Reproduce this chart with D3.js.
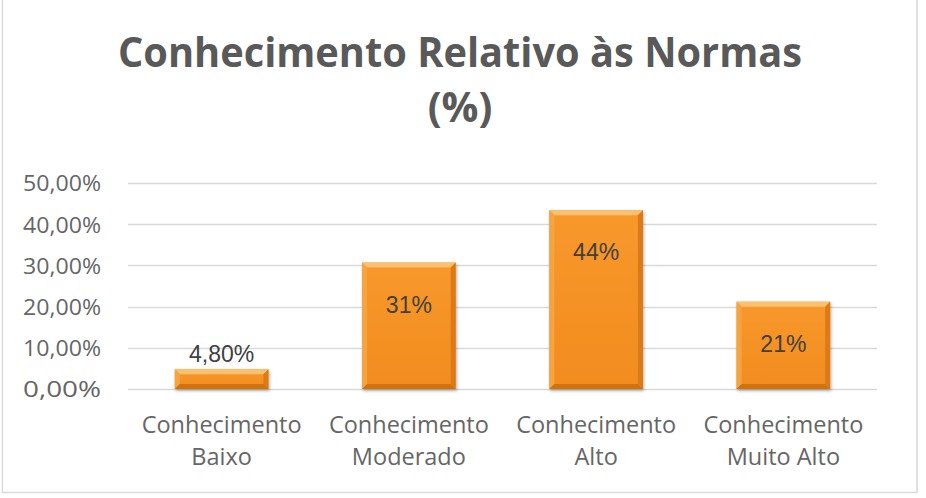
<!DOCTYPE html>
<html>
<head>
<meta charset="utf-8">
<script src="https://cdnjs.cloudflare.com/ajax/libs/d3/7.8.5/d3.min.js"></script>
<style>
  body { margin: 0; background: #fff; }
  svg { display: block; }
</style>
</head>
<body>
<div id="chart"></div>
<script>
// chart data
var categories = ['Conhecimento Baixo', 'Conhecimento Moderado', 'Conhecimento Alto', 'Conhecimento Muito Alto'];
var values = [0.048, 0.307, 0.434, 0.212];
var valueLabels = ['4,80%', '31%', '44%', '21%'];
var yTicks = [0, 0.1, 0.2, 0.3, 0.4, 0.5];
var titleLines = ['Conhecimento Relativo às Normas', '(%)'];

var width = 926, height = 498;
var bevel = 5;

var svg = d3.select('#chart')
	.append('svg')
	.attr('width', width)
	.attr('height', height);

// gradient + shadow for the bars
var defs = svg.append('defs');
var grad = defs.append('linearGradient')
	.attr('id', 'barFill')
	.attr('x1', 0).attr('y1', 0).attr('x2', 0).attr('y2', 1);
grad.append('stop').attr('offset', '0%').attr('stop-color', '#f8982c');
grad.append('stop').attr('offset', '100%').attr('stop-color', '#f28c1f');

var shadow = defs.append('filter').attr('id', 'shadow')
	.attr('x', '-10%').attr('y', '-10%').attr('width', '130%').attr('height', '130%');
shadow.append('feDropShadow')
	.attr('dx', 1).attr('dy', 2).attr('stdDeviation', 1.5)
	.attr('flood-color', '#000').attr('flood-opacity', 0.3);

// chart border
svg.append('rect')
	.attr('x', 2.5)
	.attr('y', -2)
	.attr('width', 914.5)
	.attr('height', 494.5)
	.attr('fill', '#fff')
	.attr('stroke', '#d9d9d9')
	.attr('stroke-width', 1.5);

var x = d3.scaleBand()
	.domain(categories)
	.range([128, 877])
	.paddingInner(0.5)
	.paddingOuter(0.25);

var y = d3.scaleLinear()
	.domain([0, 0.5])
	.range([389, 183]);

// title
svg.append('text')
	.attr('x', 460)
	.attr('text-anchor', 'middle')
	.style('font-family', '"Open Sans", sans-serif')
	.style('font-weight', 'bold')
	.style('font-size', '41px')
	.style('fill', '#595959')
	.selectAll('tspan')
	.data(titleLines)
	.enter().append('tspan')
	.attr('x', 460)
	.attr('y', function(d, i){ return 67 + i * 55; })
	.attr('textLength', function(d, i){ return i == 0 ? 684 : null; })
	.attr('lengthAdjust', 'spacingAndGlyphs')
	.text(function(d){ return d; });

// gridlines
svg.append('g')
	.selectAll('line')
	.data(yTicks)
	.enter().append('line')
	.attr('x1', 128)
	.attr('x2', 877)
	.attr('y1', function(d){ return Math.round(y(d)) + 0.5; })
	.attr('y2', function(d){ return Math.round(y(d)) + 0.5; })
	.attr('stroke', '#d9d9d9')
	.attr('stroke-width', 1.5);

// y axis labels
var yAxis = d3.axisLeft(y)
	.tickValues(yTicks)
	.tickSize(0)
	.tickPadding(0)
	.tickFormat(function(d){ return d3.format('.2f')(d * 100).replace('.', ',') + '%'; });

var yg = svg.append('g')
	.attr('transform', 'translate(101,0)')
	.call(yAxis);
yg.select('.domain').remove();
yg.selectAll('text')
	.attr('dy', '0.36em')
	.style('font-family', '"Open Sans", sans-serif')
	.style('font-size', '22px')
	.style('fill', '#666')
	.attr('textLength', 78)
	.attr('lengthAdjust', 'spacingAndGlyphs');

// bars
var bars = svg.append('g')
	.selectAll('g')
	.data(values)
	.enter().append('g')
	.attr('filter', 'url(#shadow)');

bars.append('rect')
	.attr('x', function(d, i){ return x(categories[i]); })
	.attr('y', function(d){ return y(d); })
	.attr('width', x.bandwidth())
	.attr('height', function(d){ return y(0) - y(d); })
	.attr('fill', 'url(#barFill)');

// bevel edges
function bevelPath(d, i, side) {
	var x0 = x(categories[i]), x1 = x0 + x.bandwidth();
	var y0 = y(d), y1 = y(0);
	var b = Math.min(bevel, (y1 - y0) / 2);
	if (side == 'top') return [[x0, y0], [x1, y0], [x1 - b, y0 + b], [x0 + b, y0 + b]];
	if (side == 'left') return [[x0, y0], [x0 + b, y0 + b], [x0 + b, y1 - b], [x0, y1]];
	if (side == 'right') return [[x1, y0], [x1 - b, y0 + b], [x1 - b, y1 - b], [x1, y1]];
	return [[x0, y1], [x0 + b, y1 - b], [x1 - b, y1 - b], [x1, y1]];
}
var bevelColors = { top: '#fcc16f', left: '#f6a443', right: '#dc7a12', bottom: '#d27210' };

['top', 'left', 'right', 'bottom'].forEach(function(side){
	bars.append('path')
		.attr('d', function(d, i){ return d3.line()(bevelPath(d, i, side)) + 'Z'; })
		.attr('fill', bevelColors[side]);
});

// value labels
svg.append('g')
	.selectAll('text')
	.data(values)
	.enter().append('text')
	.attr('x', function(d, i){ return x(categories[i]) + x.bandwidth() / 2; })
	.attr('y', function(d){ return y(d) - y(0) > -40 ? y(d) - 16 : y(d) + 42; })
	.attr('dy', '0.36em')
	.attr('text-anchor', 'middle')
	.style('font-family', '"Liberation Sans", Arial, sans-serif')
	.style('font-size', '23px')
	.style('fill', '#404040')
	.text(function(d, i){ return valueLabels[i]; });

// x axis labels
var xl = svg.append('g')
	.selectAll('text')
	.data(categories)
	.enter().append('text')
	.attr('x', function(d){ return x(d) + x.bandwidth() / 2; })
	.attr('text-anchor', 'middle')
	.style('font-family', '"Open Sans", sans-serif')
	.style('font-size', '24px')
	.style('fill', '#666');

xl.each(function(d){
	var parts = ['Conhecimento', d.replace('Conhecimento ', '')];
	var cx = x(d) + x.bandwidth() / 2;
	d3.select(this).selectAll('tspan')
		.data(parts)
		.enter().append('tspan')
		.attr('x', cx)
		.attr('y', function(p, i){ return 433 + i * 32; })
		.text(function(p){ return p; });
});

// squeeze the labels to the narrower widths of the original font
var ref = xl.select('tspan').node().getComputedTextLength();
var squeeze = 160 / ref;
xl.selectAll('tspan').each(function(){
	var w = this.getComputedTextLength();
	d3.select(this)
		.attr('textLength', w * squeeze)
		.attr('lengthAdjust', 'spacingAndGlyphs');
});
</script>
</body>
</html>
